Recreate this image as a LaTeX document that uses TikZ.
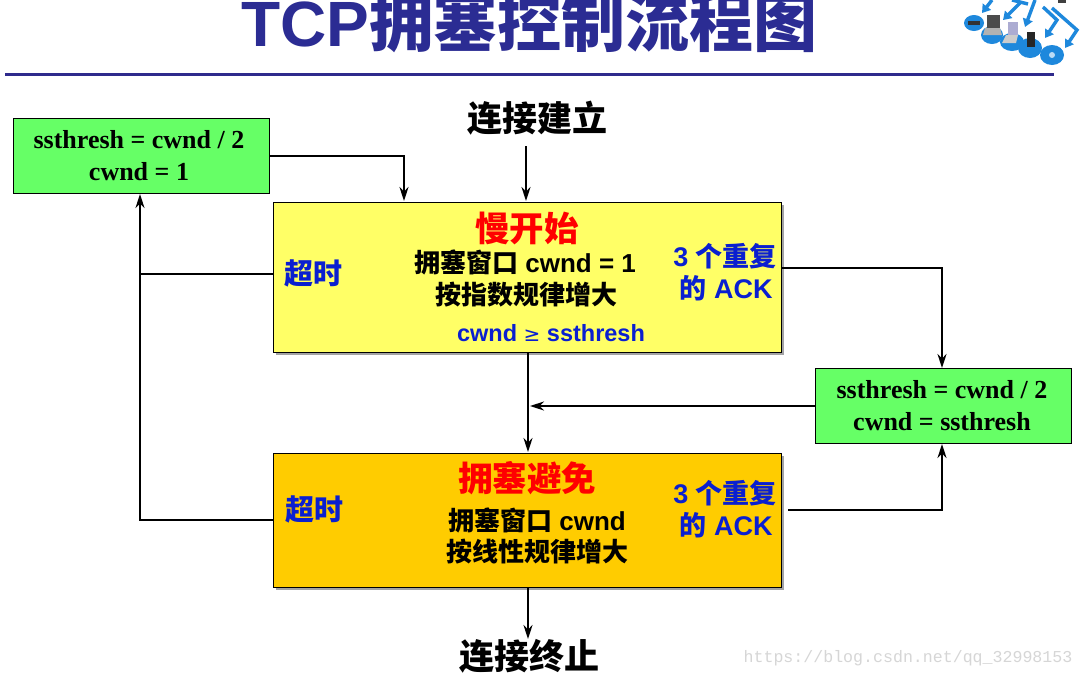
\documentclass[tikz,border=0pt]{standalone}
\usepackage{fontspec}
\usetikzlibrary{arrows.meta,shadows,calc}
\setmainfont{Liberation Sans}
\newfontfamily\cjk{Noto Sans CJK SC}
\newfontfamily\serifb{Liberation Serif}
\newfontfamily\monof{Liberation Mono}
\newfontfamily\dejavu{DejaVu Sans}
\newcommand{\zh}[1]{{\cjk\bfseries #1}}
\newcommand{\fs}[1]{\fontsize{#1pt}{#1pt}\selectfont}
\definecolor{titleblue}{HTML}{2B2C93}
\definecolor{ruleblue}{HTML}{2F2A8C}
\definecolor{labelblue}{HTML}{0A1FD0}
\definecolor{boxgreen}{HTML}{66FF66}
\definecolor{boxyellow}{HTML}{FFFF66}
\definecolor{boxorange}{HTML}{FFCC00}
\definecolor{iconblue}{HTML}{1E88DC}
\tikzset{
  x=1pt,y=-1pt,
  flowbox/.style={draw=black,line width=1pt,inner sep=0pt,drop shadow={shadow xshift=3pt,shadow yshift=-3pt,fill=black!60,opacity=.6}},
  greenbox/.style={draw=black,line width=1pt,fill=boxgreen,inner sep=0pt,minimum width=256pt,minimum height=75pt},
  txt/.style={inner sep=0pt,align=center,font=\fs{26}\bfseries},
  redt/.style={txt,text=red,font=\fs{34.5}\bfseries},
  bluet/.style={txt,text=labelblue,font=\fs{27}\bfseries},
  sert/.style={txt,font=\fs{26}\serifb\bfseries},
  endt/.style={txt,font=\fs{35}},
  flow/.style={line width=2pt,-{Stealth[length=14pt,width=9pt]}},
  plain/.style={line width=2pt},
  iconline/.style={iconblue,line width=3.4pt,-{Triangle[length=8pt,width=10pt]}},
  disc/.style={fill=iconblue},
}
\begin{document}
\begin{tikzpicture}
\useasboundingbox (0,0) rectangle (1084,678);
\fill[white] (0,0) rectangle (1084,678);
% title and rule
\node[inner sep=0pt,text=titleblue,font=\fs{64}\bfseries] (title) at (529,22) {TCP\zh{拥塞控制流程图}};
\fill[ruleblue] (5,72.5) rectangle (1054,75.5);
% network icon
\fill[disc] (974,23) ellipse (10 and 8);
\fill[disc] (992,35) ellipse (11 and 9);
\fill[disc] (1012,42) ellipse (12 and 9);
\fill[disc] (1030,48) ellipse (12 and 10);
\fill[disc] (1052,55) ellipse (12 and 10);
\draw[iconline] (992,0) -- (982,13);
\draw[iconline] (1020,3) -- (1003,20);
\draw[iconline] (1035,0) -- (1025,27);
\draw[iconline] (1043,7) -- (1057,20) -- (1045,38);
\draw[iconline] (1052,8) -- (1077,30) -- (1065,48);
\draw[iconblue,line width=3.4pt] (1012,0) -- (1028,4);
\fill[black!80] (968,21) rectangle (980,25);
\fill[black!70] (987,15) rectangle (1000,28);
\fill[gray!60] (985,28) -- (1000,28) -- (1002,35) -- (983,35) -- cycle;
\fill[blue!30!gray!50] (1008,22) rectangle (1018,35);
\fill[gray!40] (1006,35) -- (1018,35) -- (1016,43) -- (1002,43) -- cycle;
\fill[black!85] (1027,32) rectangle (1035,47);
\fill[white!70!iconblue] (1052,55) circle (3);
\fill[black!75] (1058,0) rectangle (1066,3);
% boxes
\node[flowbox,fill=boxyellow,minimum width=508pt,minimum height=150pt] (slow) at (527,277) {};
\node[flowbox,fill=boxorange,minimum width=508pt,minimum height=134pt] (avoid) at (527,520) {};
\node[greenbox] (g1) at (141,155.5) {};
\node[greenbox] (g2) at (943,406) {};
% box texts
\node[sert] (g1a) at (139,140) {ssthresh = cwnd / 2};
\node[sert] (g1b) at (139,172) {cwnd = 1};
\node[sert] (g2a) at (942,390) {ssthresh = cwnd / 2};
\node[sert] (g2b) at (942,422) {cwnd = ssthresh};
\node[endt] (start) at (537,118) {\zh{连接建立}};
\node[endt] (finish) at (529,656) {\zh{连接终止}};
\node[redt] (st1) at (527,228) {\zh{慢开始}};
\node[txt] (st2) at (525,262) {\zh{拥塞窗口} cwnd = 1};
\node[txt] (st3) at (526,295) {\zh{按指数规律增大}};
\node[bluet,font=\fs{23.5}\bfseries] (st4) at (551,333) {cwnd {\mdseries\dejavu\fs{20}≥} ssthresh};
\node[bluet,font=\fs{29}] (st5) at (313,273) {\zh{超时}};
\node[bluet] (st6) at (725,256) {3 \zh{个重复}};
\node[bluet] (st7) at (726,288) {\zh{的} ACK};
\node[redt] (av1) at (527,478) {\zh{拥塞避免}};
\node[txt] (av2) at (537,520) {\zh{拥塞窗口} cwnd};
\node[txt] (av3) at (537,552) {\zh{按线性规律增大}};
\node[bluet,font=\fs{29}] (av5) at (314,509) {\zh{超时}};
\node[bluet] (av6) at (725,493) {3 \zh{个重复}};
\node[bluet] (av7) at (726,525) {\zh{的} ACK};
% watermark
\node[inner sep=0pt,text=black!16,font=\fs{16.6}\monof] (wm) at (908,658) {https://blog.csdn.net/qq\_32998153};
% connector anchors
\coordinate (inA) at (526,146);
\coordinate (tipA) at (526,201);
\coordinate (tipB) at (404,201);
\coordinate (leftHi) at (slow.west |- 0,274);
\coordinate (leftLo) at (avoid.west |- 0,520);
\coordinate (bend) at (140,520);
\coordinate (branch) at (140,274);
\coordinate (tipG1) at (140,194);
\coordinate (rightHi) at (slow.east |- 0,268);
\coordinate (rightLo) at (788,510);
\coordinate (tipG2t) at (942,368);
\coordinate (tipG2b) at (942,444);
\coordinate (midS) at (528,352);
\coordinate (midE) at (528,452);
\coordinate (midJ) at (530,406);
\coordinate (outS) at (528,587);
\coordinate (outE) at (528,639);
% connectors
\draw[flow] (inA) -- (tipA);
\draw[flow] (g1.east) -| (tipB);
\draw[flow] (leftLo) -- (bend) -- (tipG1);
\draw[plain] (leftHi) -- (branch);
\draw[flow] (rightHi) -| (tipG2t);
\draw[flow] (rightLo) -| (tipG2b);
\draw[flow] (midS) -- (midE);
\draw[flow] (g2.west) -- (midJ);
\draw[flow] (outS) -- (outE);
\end{tikzpicture}
\end{document}
